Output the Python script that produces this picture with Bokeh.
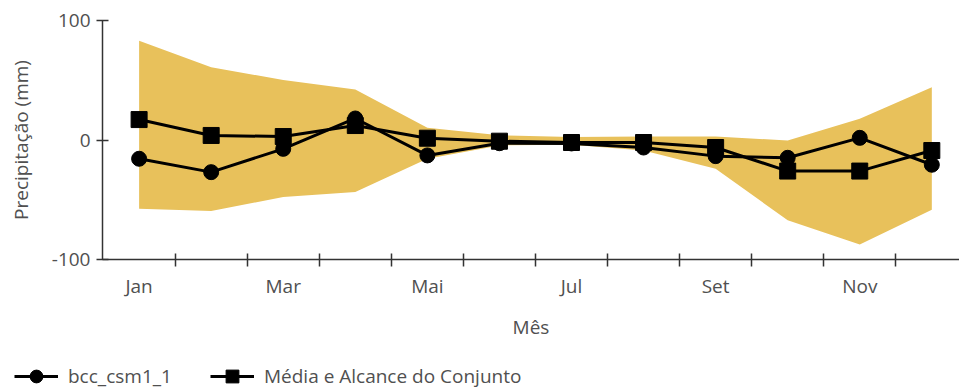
from bokeh.plotting import figure
from bokeh.models import Range1d, FixedTicker, Legend, LegendItem
from bokeh.embed import file_html
from bokeh.resources import INLINE

# Monthly precipitation change (mm)
months = ["Jan", "Fev", "Mar", "Abr", "Mai", "Jun", "Jul", "Ago", "Set", "Out", "Nov", "Dez"]
month_labels = {0: "Jan", 2: "Mar", 4: "Mai", 6: "Jul", 8: "Set", 10: "Nov"}
bcc_csm1_1 = [-15.7, -26.9, -7.4, 18.0, -12.9, -2.7, -2.9, -6.3, -13.5, -14.9, 1.8, -20.7]
ens_mean = [17.1, 3.8, 2.9, 12.1, 1.5, -1.0, -2.1, -2.1, -6.3, -26.0, -26.0, -8.8]
ens_upper = [83.1, 60.8, 50.3, 42.2, 10.2, 4.0, 2.5, 3.0, 3.0, -0.5, 17.7, 44.1]
ens_lower = [-57.5, -59.4, -47.8, -43.6, -15.7, -4.5, -4.0, -8.8, -24.0, -67.2, -87.5, -58.3]
y_ticks = [-100, 0, 100]
y_labels = {-100: "-100", 0: "0", 100: "100"}

idx = list(range(len(months)))

FONT = "Open Sans"
TEXT = "#505050"
AXIS = "#333333"
BAND = "#e8c15b"

p = figure(
    width=959, height=345,
    output_backend="svg", toolbar_location=None,
    x_range=Range1d(-0.508, 11.384), y_range=Range1d(-100, 100),
    min_border_left=102, min_border_right=0,
    min_border_top=20, min_border_bottom=86,
)
p.grid.visible = False
p.outline_line_color = None

# ensemble range
p.varea(x=idx, y1=ens_lower, y2=ens_upper, fill_color=BAND, fill_alpha=1.0)

# single model
p.line(idx, bcc_csm1_1, line_color="black", line_width=3)
p.scatter(idx, bcc_csm1_1, marker="circle", size=15, fill_color="black", line_color="black")

# ensemble mean
p.line(idx, ens_mean, line_color="black", line_width=3)
p.scatter(idx, ens_mean, marker="square", size=16, fill_color="black", line_color="black")

# axes
xa = p.xaxis[0]
xa.ticker = FixedTicker(ticks=sorted(month_labels.keys()),
                        minor_ticks=[i + 0.5 for i in range(11)])
xa.major_label_overrides = month_labels
xa.major_tick_in = 0
xa.major_tick_out = 0
xa.minor_tick_in = 6
xa.minor_tick_out = 7
xa.minor_tick_line_color = AXIS
xa.minor_tick_line_width = 1.5
xa.axis_line_color = AXIS
xa.axis_line_width = 1.5
xa.major_label_standoff = 6
xa.major_label_text_font = FONT
xa.major_label_text_font_size = "19px"
xa.major_label_text_color = TEXT
xa.axis_label = "Mês"
xa.axis_label_text_font = FONT
xa.axis_label_text_font_size = "19px"
xa.axis_label_text_font_style = "normal"
xa.axis_label_text_color = TEXT
xa.axis_label_standoff = 12

ya = p.yaxis[0]
ya.ticker = FixedTicker(ticks=y_ticks, minor_ticks=[])
ya.major_label_overrides = y_labels
ya.major_tick_in = 6
ya.major_tick_out = 6
ya.major_tick_line_color = AXIS
ya.major_tick_line_width = 1.5
ya.axis_line_color = AXIS
ya.axis_line_width = 1.5
ya.major_label_standoff = 6
ya.major_label_text_font = FONT
ya.major_label_text_font_size = "19px"
ya.major_label_text_color = TEXT
ya.axis_label = "Precipitação (mm)"
ya.axis_label_text_font = FONT
ya.axis_label_text_font_size = "19px"
ya.axis_label_text_font_style = "normal"
ya.axis_label_text_color = TEXT
ya.axis_label_standoff = 15

# legend strip under the chart (its own root, so its frame spans the full width)
leg = figure(
    width=959, height=47,
    output_backend="svg", toolbar_location=None,
    x_range=Range1d(0, 1), y_range=Range1d(0, 1),
    x_axis_location=None, y_axis_location=None,
    min_border=0,
)
leg.grid.visible = False
leg.outline_line_color = None

# hidden copies of the series; they only provide the legend keys
k1_line = leg.line(idx, bcc_csm1_1, line_color="black", line_width=3, visible=False)
k1_mark = leg.scatter(idx, bcc_csm1_1, marker="circle", fill_color="black", line_color="black", visible=False)
k2_line = leg.line(idx, ens_mean, line_color="black", line_width=3, visible=False)
k2_mark = leg.scatter(idx, ens_mean, marker="square", fill_color="black", line_color="black", visible=False)

legend = Legend(
    items=[
        LegendItem(label="bcc_csm1_1", renderers=[k1_line, k1_mark]),
        LegendItem(label="Média e Alcance do Conjunto", renderers=[k2_line, k2_mark]),
    ],
    orientation="horizontal",
    location=(14, 0),
    glyph_width=44, glyph_height=32,
    label_standoff=10, spacing=38,
    padding=0, margin=0,
    label_text_font=FONT, label_text_font_size="19px", label_text_color=TEXT,
    border_line_color=None, background_fill_alpha=0,
    inactive_fill_alpha=0,
)
leg.add_layout(legend, "center")

open("out.html", "w").write(file_html([p, leg], INLINE))
